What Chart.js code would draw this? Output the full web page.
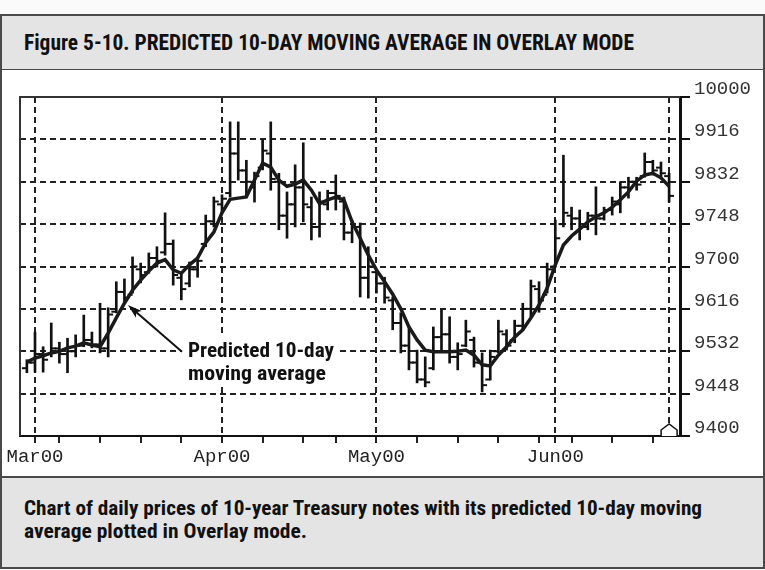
<!DOCTYPE html>
<html>
<head>
<meta charset="utf-8">
<script src="https://cdn.jsdelivr.net/npm/chart.js@4.4.1/dist/chart.umd.min.js"></script>
<style>
  html, body { margin: 0; padding: 0; }
  body { width: 765px; height: 570px; position: relative; overflow: hidden; background: #fafafa; }
  .box { position: absolute; left: 0; width: 765px; box-sizing: border-box; border: 2px solid #4a4a4a; }
  #head { top: 14px; height: 57px; background: #e4e4e4; }
  #plot { top: 70px; height: 407px; background: #fff; border-top: none; border-bottom: none; }
  #cap { top: 476px; height: 93px; background: #e4e4e4; }
  .txt { position: absolute; left: 22px; white-space: nowrap; font-weight: bold; color: #111;
         font-family: "Liberation Sans Narrow", "Roboto Condensed", "DejaVu Sans Condensed", "Liberation Sans", sans-serif;
         font-stretch: condensed; transform-origin: 0 0; line-height: 1; }
  #title { top: 16px; font-size: 22px; }
  #cap1 { top: 20px; font-size: 21px; }
  #cap2 { top: 43px; font-size: 21px; }
  #chartWrap { position: absolute; left: 2px; top: 70px; width: 761px; height: 406px; }
</style>
</head>
<body>
<div class="box" id="head"><span class="txt" id="title">Figure 5-10. PREDICTED 10-DAY MOVING AVERAGE IN OVERLAY MODE</span></div>
<div class="box" id="plot"></div>
<div class="box" id="cap">
  <span class="txt" id="cap1">Chart of daily prices of 10-year Treasury notes with its predicted 10-day moving</span>
  <span class="txt" id="cap2">average plotted in Overlay mode.</span>
</div>
<div id="chartWrap"><canvas id="chart"></canvas></div>
<script>
// trading days shown (2000), one bar per day
const febDays = [29];
const marDays = [1, 2, 3, 6, 7, 8, 9, 10, 13, 14, 15, 16, 17, 20, 21, 22, 23, 24, 27, 28, 29, 30, 31];
const aprDays = [3, 4, 5, 6, 7, 10, 11, 12, 13, 14, 17, 18, 19, 20, 24, 25, 26, 27, 28];
const mayDays = [1, 2, 3, 4, 5, 8, 9, 10, 11, 12, 15, 16, 17, 18, 19, 22, 23, 24, 25, 26, 30, 31];
const junDays = [1, 2, 5, 6, 7, 8, 9, 12, 13, 14, 15, 16, 19, 20, 21];

// daily prices (points, decimal)
const highs = [95.35, 95.84, 95.58, 96.00, 95.66, 95.73, 95.79, 96.14, 95.84, 96.35,
  96.27, 96.73, 96.78, 97.17, 97.06, 97.24, 97.35, 97.95, 97.47, 96.90,
  97.08, 97.17, 97.91, 98.23, 98.27, 99.56, 99.56, 98.88, 98.67, 99.24,
  99.56, 98.65, 98.32, 98.80, 99.19, 98.23, 98.32, 98.35, 98.62, 98.23,
  97.82, 97.77, 97.35, 96.94, 96.81, 96.46, 96.18, 95.93, 95.52, 95.40,
  95.93, 96.23, 96.11, 95.65, 96.05, 95.75, 95.47, 95.52, 96.05, 95.88,
  96.05, 96.35, 96.76, 96.73, 97.06, 97.82, 98.97, 98.05, 98.00, 97.96,
  98.41, 98.05, 98.23, 98.50, 98.58, 98.58, 99.01, 98.88, 98.85, 98.65];
const lows = [95.12, 95.13, 95.13, 95.40, 95.29, 95.12, 95.40, 95.58, 95.56, 95.47,
  95.40, 96.18, 96.35, 96.53, 96.71, 96.88, 96.99, 97.20, 96.67, 96.41,
  96.64, 96.81, 97.35, 97.70, 97.95, 98.23, 98.53, 98.23, 98.14, 98.71,
  98.35, 97.65, 97.50, 97.70, 97.79, 97.47, 97.52, 98.00, 98.00, 97.47,
  97.42, 96.46, 96.44, 96.53, 96.35, 95.88, 95.47, 95.17, 94.94, 94.87,
  95.17, 95.52, 95.29, 95.17, 95.58, 95.22, 94.78, 94.99, 95.47, 95.52,
  95.65, 95.88, 96.11, 96.19, 96.53, 96.99, 97.70, 97.65, 97.47, 97.65,
  97.56, 97.82, 97.91, 97.95, 98.21, 98.35, 98.58, 98.62, 98.57, 98.14];
const opens = [95.20, 95.30, 95.45, 95.45, 95.55, 95.45, 95.50, 95.60, 95.70, 95.62,
  95.55, 96.20, 96.55, 96.50, 96.95, 96.90, 97.15, 97.25, 97.40, 96.80,
  96.70, 96.95, 97.40, 97.80, 98.10, 98.30, 99.00, 98.70, 98.40, 98.75,
  99.00, 98.50, 97.90, 98.10, 98.40, 98.05, 97.70, 98.10, 98.30, 98.15,
  97.60, 97.70, 96.80, 96.90, 96.70, 96.40, 96.00, 95.60, 95.30, 95.00,
  95.20, 95.75, 95.80, 95.40, 95.60, 95.70, 95.30, 95.00, 95.50, 95.80,
  95.70, 95.95, 96.25, 96.60, 96.50, 97.00, 97.75, 97.90, 97.85, 97.70,
  97.90, 97.85, 98.00, 98.10, 98.40, 98.50, 98.60, 98.85, 98.75, 98.60];
const closes = [95.30, 95.45, 95.35, 95.55, 95.45, 95.50, 95.60, 95.70, 95.62, 95.55,
  96.15, 96.55, 96.45, 97.00, 96.85, 97.15, 97.10, 97.40, 96.85, 96.60,
  96.95, 97.10, 97.80, 98.15, 98.20, 99.00, 98.70, 98.50, 98.60, 99.05,
  98.55, 97.90, 98.10, 98.40, 98.10, 97.70, 98.15, 98.30, 98.25, 97.60,
  97.70, 96.80, 97.00, 96.70, 96.45, 96.00, 95.60, 95.30, 95.00, 94.95,
  95.75, 95.80, 95.40, 95.45, 95.85, 95.30, 94.90, 95.40, 95.85, 95.60,
  95.95, 96.25, 96.65, 96.40, 96.95, 97.50, 97.95, 97.85, 97.70, 97.90,
  97.85, 98.00, 98.15, 98.40, 98.50, 98.45, 98.85, 98.70, 98.65, 98.25];
// predicted 10-day moving average
const movingAvg = [95.31, 95.38, 95.42, 95.47, 95.50, 95.56, 95.59, 95.65, 95.61, 95.58,
  95.82, 96.09, 96.35, 96.58, 96.76, 96.92, 97.06, 97.12, 96.94, 96.88,
  97.03, 97.15, 97.42, 97.61, 97.95, 98.19, 98.21, 98.23, 98.53, 98.83,
  98.76, 98.53, 98.42, 98.46, 98.53, 98.35, 98.11, 98.18, 98.23, 98.18,
  97.79, 97.50, 97.20, 96.94, 96.73, 96.51, 96.25, 95.93, 95.70, 95.52,
  95.49, 95.49, 95.49, 95.50, 95.52, 95.43, 95.26, 95.24, 95.43, 95.58,
  95.75, 95.88, 96.09, 96.32, 96.62, 97.03, 97.38, 97.54, 97.66, 97.79,
  97.88, 97.95, 98.05, 98.18, 98.32, 98.51, 98.62, 98.65, 98.57, 98.42];

const monthTickLabels = ['Mar00', 'Apr00', 'May00', 'Jun00'];
const yTickValues = [94, 94.75, 95.5, 96.25, 97, 97.75, 98.5, 99.25, 100];
const yTickLabels = ['9400', '9448', '9532', '9616', '9700', '9748', '9832', '9916', '10000'];

const tradeDates = [];
[[1, febDays], [2, marDays], [3, aprDays], [4, mayDays], [5, junDays]].forEach(([m, days]) => {
  days.forEach(d => tradeDates.push(new Date(2000, m, d)));
});

// month starts get labels + gridlines, week starts get small ticks
const monthStarts = [];
const weekStarts = [];
for (let i = 1; i < tradeDates.length; i++) {
  const prev = tradeDates[i - 1], cur = tradeDates[i];
  if (cur.getMonth() !== prev.getMonth()) monthStarts.push(i);
  else if (cur.getDay() < prev.getDay()) weekStarts.push(i);
}
const lastDay = tradeDates.length - 1;

const monoFont = { family: '"Liberation Mono", "DejaVu Sans Mono", monospace', size: 19 };
const noteFont = '"Liberation Sans Narrow", "Roboto Condensed", "DejaVu Sans Condensed", "Liberation Sans", sans-serif';

const note = {
  lines: ['Predicted 10-day', 'moving average'],
  widths: [146, 138],
  x: 19.82,
  y: [95.40, 94.99],
  from: [19.08, 95.49],
  to: [12.44, 96.32]
};

const overlay = {
  id: 'overlay',
  beforeDatasetsDraw(chart) {
    const { ctx, chartArea: a, scales: { x, y } } = chart;
    ctx.save();
    ctx.strokeStyle = '#333';
    ctx.lineWidth = 2;
    ctx.beginPath();
    ctx.moveTo(a.left, a.bottom);
    ctx.lineTo(a.left, a.top);
    ctx.lineTo(a.right, a.top);
    ctx.stroke();
    // white patch behind the note
    const tx = x.getPixelForValue(note.x);
    const ty = y.getPixelForValue(note.y[0]);
    ctx.fillStyle = '#fff';
    ctx.fillRect(tx - 6, ty - 20, Math.max(...note.widths) + 12, 50);
    ctx.restore();
  },
  afterDatasetsDraw(chart) {
    const { ctx, chartArea: a, scales: { x, y } } = chart;
    ctx.save();
    // arrow
    const x0 = x.getPixelForValue(note.from[0]), y0 = y.getPixelForValue(note.from[1]);
    const x1 = x.getPixelForValue(note.to[0]), y1 = y.getPixelForValue(note.to[1]);
    const ang = Math.atan2(y1 - y0, x1 - x0);
    ctx.strokeStyle = '#111';
    ctx.fillStyle = '#111';
    ctx.lineWidth = 2;
    ctx.beginPath();
    ctx.moveTo(x0, y0);
    ctx.lineTo(x1 - Math.cos(ang) * 8, y1 - Math.sin(ang) * 8);
    ctx.stroke();
    ctx.beginPath();
    ctx.moveTo(x1, y1);
    ctx.lineTo(x1 - Math.cos(ang - 0.3) * 15, y1 - Math.sin(ang - 0.3) * 15);
    ctx.lineTo(x1 - Math.cos(ang) * 11, y1 - Math.sin(ang) * 11);
    ctx.lineTo(x1 - Math.cos(ang + 0.3) * 15, y1 - Math.sin(ang + 0.3) * 15);
    ctx.closePath();
    ctx.fill();
    // note text
    ctx.font = 'bold 21px ' + noteFont;
    ctx.textBaseline = 'alphabetic';
    note.lines.forEach((line, k) => {
      const w = ctx.measureText(line).width;
      ctx.save();
      ctx.translate(x.getPixelForValue(note.x), y.getPixelForValue(note.y[k]));
      ctx.scale(note.widths[k] / w, 1);
      ctx.fillText(line, 0, 0);
      ctx.restore();
    });
    // marker at the last day
    const mx = x.getPixelForValue(lastDay);
    ctx.fillStyle = '#fff';
    ctx.lineWidth = 1.5;
    ctx.beginPath();
    ctx.moveTo(mx - 8, a.bottom);
    ctx.lineTo(mx - 8, a.bottom - 6);
    ctx.lineTo(mx, a.bottom - 12);
    ctx.lineTo(mx + 8, a.bottom - 6);
    ctx.lineTo(mx + 8, a.bottom);
    ctx.fill();
    ctx.stroke();
    ctx.restore();
  }
};

const idx = tradeDates.map((d, i) => i);

new Chart(document.getElementById('chart'), {
  type: 'line',
  data: {
    datasets: [
      {
        label: 'Predicted 10-day moving average',
        data: movingAvg.map((v, i) => ({ x: idx[i], y: v })),
        borderColor: '#1a1a1a',
        borderWidth: 3.5,
        pointRadius: 0,
        order: 0
      },
      {
        type: 'bar',
        label: 'High-Low',
        data: highs.map((h, i) => ({ x: idx[i], y: [lows[i], h] })),
        backgroundColor: '#111',
        barThickness: 2,
        order: 2
      },
      {
        label: 'Open',
        data: opens.map((v, i) => ({ x: idx[i] - 0.3, y: v })),
        showLine: false,
        pointStyle: 'line',
        pointRadius: 2.5,
        pointBorderWidth: 2,
        pointBorderColor: '#111',
        order: 1
      },
      {
        label: 'Close',
        data: closes.map((v, i) => ({ x: idx[i] + 0.3, y: v })),
        showLine: false,
        pointStyle: 'line',
        pointRadius: 2.5,
        pointBorderWidth: 2,
        pointBorderColor: '#111',
        order: 1
      }
    ]
  },
  options: {
    responsive: true,
    maintainAspectRatio: false,
    animation: false,
    layout: { padding: { left: 18, top: 27, right: 0, bottom: 0 } },
    plugins: { legend: { display: false }, tooltip: { enabled: false } },
    scales: {
      x: {
        type: 'linear',
        min: -0.845,
        max: 80.34,
        offset: false,
        afterBuildTicks: s => {
          s.ticks = [...monthStarts, ...weekStarts, lastDay].sort((a, b) => a - b).map(v => ({ value: v }));
        },
        afterFit: s => { s.height = 40; },
        ticks: {
          autoSkip: false,
          maxRotation: 0,
          minRotation: 0,
          padding: 3,
          font: monoFont,
          color: '#222',
          callback: v => {
            const k = monthStarts.indexOf(v);
            return k >= 0 ? monthTickLabels[k] : '';
          }
        },
        grid: {
          offset: false,
          color: c => (c.tick && (monthStarts.includes(c.tick.value) || c.tick.value === lastDay)) ? '#222' : 'rgba(0,0,0,0)',
          lineWidth: 2,
          tickLength: 7,
          tickWidth: 2,
          tickColor: c => (c.tick && c.tick.value === lastDay) ? 'rgba(0,0,0,0)' : '#222'
        },
        border: { display: true, color: '#111', width: 2, dash: [6, 4] }
      },
      y: {
        position: 'right',
        min: 94,
        max: 100,
        afterBuildTicks: s => { s.ticks = yTickValues.map(v => ({ value: v })); },
        afterFit: s => { s.width = 83; },
        ticks: {
          padding: 4,
          labelOffset: -8,
          font: monoFont,
          color: '#333',
          callback: v => yTickLabels[yTickValues.indexOf(v)]
        },
        grid: { color: '#222', lineWidth: 2, tickLength: 10, tickWidth: 2, tickColor: '#111' },
        border: { display: true, color: '#111', width: 3, dash: [6, 4] }
      }
    }
  },
  plugins: [overlay]
});

// squeeze header / caption lines to the widths used in the figure
function fitWidth(id, target) {
  const el = document.getElementById(id);
  const w = el.getBoundingClientRect().width;
  el.style.transform = 'scaleX(' + (target / w) + ')';
}
fitWidth('title', 610);
fitWidth('cap1', 678);
fitWidth('cap2', 283);
</script>
</body>
</html>
